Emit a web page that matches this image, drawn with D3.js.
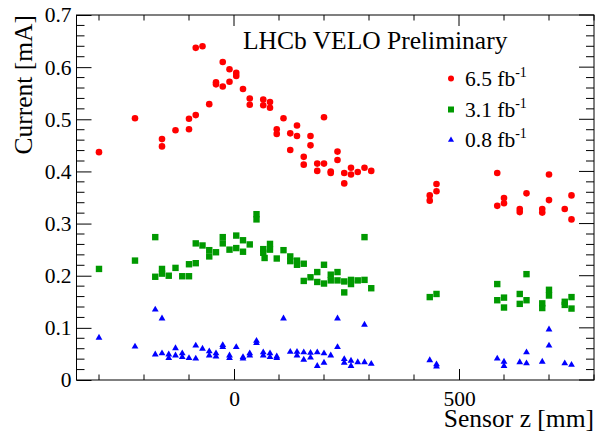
<!DOCTYPE html>
<html><head><meta charset="utf-8">
<script src="https://cdn.jsdelivr.net/npm/d3@7"></script>
<style>html,body{margin:0;padding:0;background:#fff;}svg{display:block;}</style>
</head><body>
<script>
// ---- data ----
const z65 = [-300,-220,-160,-160,-130,-100,-100,-85,-85,-70,-55,-40,-40,-25,-25,-10,-10,5,5,20,35,35,65,65,80,80,95,95,110,125,125,140,140,155,155,170,170,185,185,200,200,215,215,230,230,245,245,260,260,275,290,305,435,435,450,450,585,585,600,600,635,635,650,685,685,700,700,735,750,750];
const i65 = [0.437,0.502,0.462,0.448,0.479,0.481,0.501,0.508,0.637,0.640,0.529,0.571,0.567,0.610,0.563,0.596,0.572,0.589,0.583,0.558,0.540,0.528,0.538,0.527,0.533,0.522,0.481,0.472,0.502,0.473,0.441,0.488,0.468,0.428,0.413,0.468,0.450,0.415,0.401,0.415,0.504,0.400,0.397,0.438,0.422,0.397,0.377,0.407,0.394,0.399,0.407,0.401,0.354,0.344,0.376,0.362,0.397,0.334,0.349,0.339,0.328,0.322,0.358,0.328,0.321,0.394,0.345,0.328,0.354,0.308];

const z31 = [-300,-220,-175,-175,-160,-160,-145,-130,-115,-100,-100,-85,-85,-70,-55,-55,-40,-25,-25,-10,5,5,20,20,35,50,50,65,65,68,80,80,95,110,125,125,140,140,155,155,170,185,185,200,200,215,215,230,230,245,245,260,260,275,290,290,305,435,450,585,585,600,600,635,635,650,650,685,685,700,700,735,735,750,750];
const i31 = [0.213,0.229,0.274,0.198,0.213,0.204,0.200,0.215,0.199,0.199,0.222,0.224,0.262,0.258,0.249,0.237,0.245,0.274,0.262,0.250,0.277,0.253,0.268,0.246,0.260,0.318,0.308,0.251,0.244,0.234,0.261,0.250,0.233,0.249,0.237,0.228,0.229,0.221,0.223,0.190,0.197,0.207,0.188,0.221,0.185,0.202,0.191,0.207,0.191,0.189,0.168,0.192,0.184,0.191,0.274,0.192,0.176,0.159,0.165,0.184,0.153,0.158,0.139,0.165,0.146,0.203,0.153,0.147,0.138,0.173,0.162,0.150,0.144,0.159,0.137];

const z08 = [-300,-220,-175,-175,-160,-160,-145,-145,-130,-130,-115,-115,-100,-85,-85,-70,-55,-55,-40,-40,-25,-25,-10,-10,5,20,20,35,35,50,50,65,65,80,80,95,95,110,125,140,140,155,155,170,170,185,185,200,200,215,230,230,245,245,260,260,275,290,290,305,435,450,450,585,600,600,635,650,650,685,700,700,735,750];
const i08 = [0.081,0.064,0.135,0.049,0.118,0.051,0.049,0.042,0.061,0.047,0.051,0.044,0.042,0.066,0.041,0.060,0.055,0.047,0.051,0.045,0.067,0.063,0.047,0.042,0.063,0.044,0.041,0.051,0.047,0.075,0.071,0.053,0.047,0.051,0.044,0.045,0.042,0.118,0.054,0.054,0.047,0.053,0.039,0.052,0.043,0.053,0.027,0.051,0.033,0.047,0.118,0.063,0.040,0.033,0.037,0.027,0.034,0.106,0.034,0.031,0.038,0.030,0.026,0.041,0.035,0.027,0.034,0.053,0.032,0.035,0.097,0.066,0.032,0.029];

const yMajor = [0,0.1,0.2,0.3,0.4,0.5,0.6,0.7];
const xMajor = [0,500];
const xMinor = [-300,-200,-100,100,200,300,400,600,700,800];
const legendLabels = ["6.5","3.1","0.8"];

// ---- drawing ----
const W = 602, H = 433;
const FONT = "'Liberation Serif','Times New Roman',serif";
const svg = d3.select("body").append("svg").attr("width", W).attr("height", H)
  .style("font-family", FONT);

const x = d3.scaleLinear().domain([-350, 800]).range([76.5, 594]);
const y = d3.scaleLinear().domain([0, 0.7]).range([380, 15]);

const colors = {r: "#ff0000", g: "#009900", b: "#0000ff"};

// frame
svg.append("rect").attr("x", x.range()[0]).attr("y", y.range()[1])
  .attr("width", x.range()[1] - x.range()[0]).attr("height", y.range()[0] - y.range()[1])
  .attr("fill", "none").attr("stroke", "#000").attr("stroke-width", 1);

const yMinor = d3.range(0, 0.7001, 0.02).filter(v => !yMajor.some(m => Math.abs(m - v) < 1e-6));

// left axis
const fmtY = d => d === 0 ? "0" : d3.format(".1f")(d);
const gl = svg.append("g").attr("transform", `translate(${x.range()[0]},0)`)
  .call(d3.axisLeft(y).tickValues(yMajor).tickSize(-15).tickPadding(5).tickFormat(fmtY));
gl.select(".domain").remove();
gl.selectAll("text").attr("font-size", 21.5).attr("font-family", FONT).attr("fill", "#000");
gl.selectAll("line").attr("stroke", "#000");
gl.append("g").selectAll("line").data(yMinor).join("line")
  .attr("x1", 0).attr("x2", 8).attr("y1", d => y(d)).attr("y2", d => y(d)).attr("stroke", "#000");

// right axis ticks
const gr = svg.append("g").attr("transform", `translate(${x.range()[1]},0)`);
gr.selectAll("line.maj").data(yMajor).join("line").attr("class","maj")
  .attr("x1", 0).attr("x2", -15).attr("y1", d => y(d)).attr("y2", d => y(d)).attr("stroke", "#000");
gr.selectAll("line.min").data(yMinor).join("line").attr("class","min")
  .attr("x1", 0).attr("x2", -8).attr("y1", d => y(d)).attr("y2", d => y(d)).attr("stroke", "#000");

// bottom axis
const gb = svg.append("g").attr("transform", `translate(0,${y.range()[0]})`)
  .call(d3.axisBottom(x).tickValues(xMajor).tickSize(-11).tickPadding(11).tickFormat(d3.format("d")));
gb.select(".domain").remove();
gb.selectAll("text").attr("font-size", 21.5).attr("font-family", FONT).attr("fill", "#000");
gb.selectAll("line").attr("stroke", "#000");
gb.append("g").selectAll("line").data(xMinor).join("line")
  .attr("x1", d => x(d)).attr("x2", d => x(d)).attr("y1", 0).attr("y2", -5.5).attr("stroke", "#000");

// top axis ticks
const gt = svg.append("g").attr("transform", `translate(0,${y.range()[1]})`);
gt.selectAll("line.maj").data(xMajor).join("line").attr("class","maj")
  .attr("x1", d => x(d)).attr("x2", d => x(d)).attr("y1", 0).attr("y2", 11).attr("stroke", "#000");
gt.selectAll("line.min").data(xMinor).join("line").attr("class","min")
  .attr("x1", d => x(d)).attr("x2", d => x(d)).attr("y1", 0).attr("y2", 5.5).attr("stroke", "#000");

// axis titles
svg.append("text").attr("x", 594).attr("y", 427).attr("text-anchor", "end")
  .attr("font-size", 25.5).text("Sensor z [mm]");
svg.append("text").attr("transform", `translate(32,15) rotate(-90)`).attr("text-anchor", "end")
  .attr("font-size", 25.5).text("Current [mA]");

// label
svg.append("text").attr("x", 243).attr("y", 49).attr("font-size", 25.5).text("LHCb VELO Preliminary");

// markers
const plot = svg.append("g");
const d65 = z65.map((z, i) => ({z, v: i65[i]}));
const d31 = z31.map((z, i) => ({z, v: i31[i]}));
const d08 = z08.map((z, i) => ({z, v: i08[i]}));

const tri = d3.symbol().type(d3.symbolTriangle).size(20);

plot.append("g").selectAll("rect").data(d31).join("rect")
  .attr("x", d => x(d.z) - 3.2).attr("y", d => y(d.v) - 3.2)
  .attr("width", 6.4).attr("height", 6.4).attr("fill", colors.g);
plot.append("g").selectAll("path").data(d08).join("path")
  .attr("d", tri).attr("transform", d => `translate(${x(d.z)},${y(d.v)})`).attr("fill", colors.b);
plot.append("g").selectAll("circle").data(d65).join("circle")
  .attr("cx", d => x(d.z)).attr("cy", d => y(d.v)).attr("r", 3.3).attr("fill", colors.r);

// legend
const lg = svg.append("g");
const rowY = [78.5, 109.5, 140];
lg.append("circle").attr("cx", 451).attr("cy", rowY[0]).attr("r", 3).attr("fill", colors.r);
lg.append("rect").attr("x", 448).attr("y", rowY[1] - 3).attr("width", 6).attr("height", 6).attr("fill", colors.g);
lg.append("path").attr("d", d3.symbol().type(d3.symbolTriangle).size(16)())
  .attr("transform", `translate(451,${rowY[2]})`).attr("fill", colors.b);
legendLabels.forEach((lab, i) => {
  const t = lg.append("text").attr("x", 465).attr("y", rowY[i] + 7).attr("font-size", 21.5);
  t.append("tspan").text(lab + " fb");
  t.append("tspan").attr("font-size", 14).attr("dy", -9).text("-1");
});
</script>
</body></html>
